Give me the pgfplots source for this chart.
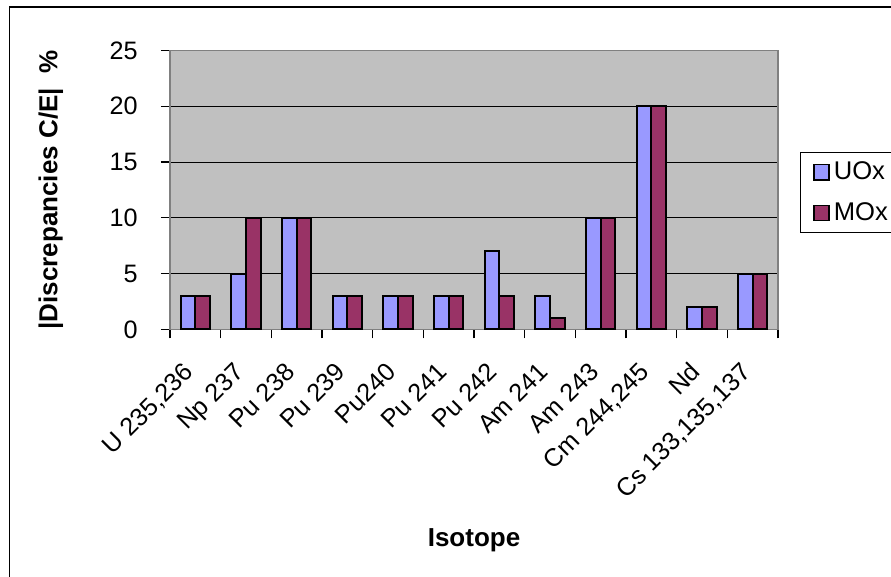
\documentclass[border=0pt]{standalone}
\usepackage{pgfplots}
\pgfplotsset{compat=1.18}
\usepackage{fontspec}
\setmainfont{Liberation Sans}

\definecolor{uox}{HTML}{9999FF}
\definecolor{mox}{HTML}{993366}
\definecolor{plotbg}{HTML}{C0C0C0}
\definecolor{frame}{HTML}{808080}

\begin{document}
\begin{tikzpicture}
% page extent and the chart's outer frame
\useasboundingbox (0,0) rectangle (445.5pt,288.5pt);
\draw[line width=0.8pt] (4.65pt,0) -- (4.65pt,284.85pt) -- (446pt,284.85pt);

\begin{axis}[
  at={(85pt,123.75pt)}, anchor=south west,
  scale only axis, width=304pt, height=139.5pt,
  xmin=-0.5, xmax=11.5, ymin=0, ymax=25,
  axis background/.style={fill=plotbg},
  axis line style={frame, line width=0.8pt},
  ybar=0pt, bar width=0.29,
  % category boundaries carry the tick marks
  xtick={-0.5,0.5,...,11.5}, xticklabels={},
  extra x ticks={0,1,...,11},
  extra x tick labels={{U 235,236},{Np 237},{Pu 238},{Pu 239},{Pu240},{Pu 241},{Pu 242},{Am 241},{Am 243},{Cm 244,245},{Nd},{Cs 133,135,137}},
  extra x tick style={major tick length=0pt, grid=none,
    tick label style={xshift=-6.5pt, yshift=-15.5pt, rotate=45, anchor=north east, inner sep=0pt}},
  ytick={0,5,...,25},
  tick align=outside, major tick length=4.5pt,
  xtick pos=bottom, ytick pos=left,
  tick style={black, line width=0.6pt},
  ymajorgrids, grid style={black, line width=0.5pt},
  /pgf/number format/assume math mode=true,
  ticklabel style={font=\fontsize{12.6}{15}\selectfont},
  yticklabel style={anchor=east, inner sep=0pt, xshift=-11.5pt},
  ylabel={\textbf{|Discrepancies C/E|\ \ \%}},
  ylabel style={at={(axis description cs:-0.196,0.5)}, rotate=0, anchor=center, font=\fontsize{13}{15}\selectfont},
  xlabel={\textbf{Isotope}},
  xlabel style={at={(axis description cs:0.5,-0.755)}, anchor=center, font=\fontsize{13}{15}\selectfont},
  legend style={at={(axis description cs:1.037,0.636)}, anchor=north west, draw=black, line width=0.5pt,
    fill=white, font=\fontsize{12.8}{15}\selectfont, inner xsep=6pt, inner ysep=2.6pt,
    row sep=6pt, cells={anchor=west, inner ysep=2pt}},
  legend image code/.code={\draw[#1, draw=black, line width=0.8pt] (0pt,-3.8pt) rectangle (7.6pt,3.8pt);},
]
\addplot[fill=uox, draw=black, line width=1pt] coordinates {
  (0,3) (1,5) (2,10) (3,3) (4,3) (5,3) (6,7) (7,3) (8,10) (9,20) (10,2) (11,5)};
\addplot[fill=mox, draw=black, line width=1pt] coordinates {
  (0,3) (1,10) (2,10) (3,3) (4,3) (5,3) (6,3) (7,1) (8,10) (9,20) (10,2) (11,5)};
\legend{UOx, MOx}
\end{axis}
\end{tikzpicture}
\end{document}
